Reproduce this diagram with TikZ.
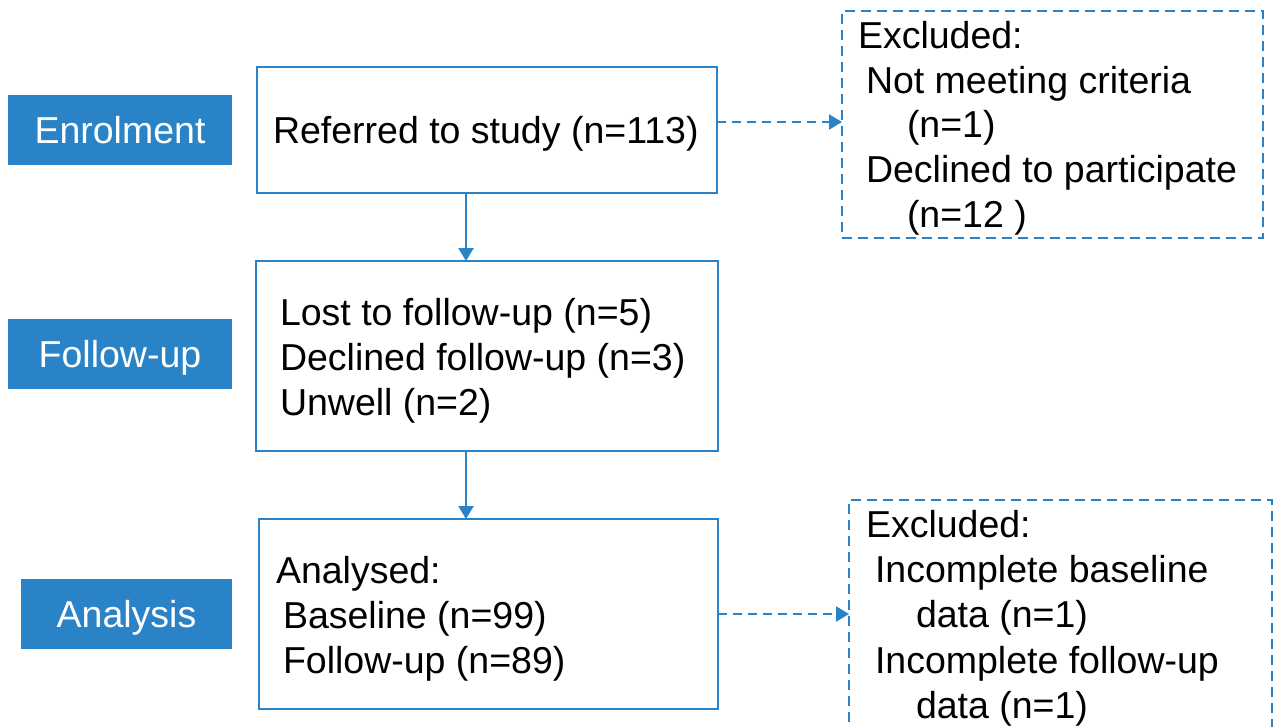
\documentclass[tikz,border=0pt]{standalone}
\usepackage{fontspec}
\setmainfont{Liberation Sans}
\usetikzlibrary{arrows.meta}
\definecolor{cblue}{RGB}{42,131,198}
\begin{document}
\begin{tikzpicture}[x=1pt,y=-1pt,
  every node/.style={font=\fontsize{37.5}{45}\selectfont, outer sep=0pt},
  lbl/.style={fill=cblue, text=white, inner sep=0pt, minimum height=70pt, text height=26.8pt, text depth=0pt},
  box/.style={draw=cblue, line width=2.8pt, inner sep=0pt},
  dbox/.style={box, dash pattern=on 10pt off 6pt},
  txt/.style={anchor=base west, inner sep=0pt, text=black},
  arr/.style={draw=cblue, line width=2.2pt, -{Triangle[width=15pt,length=13pt]}},
  darr/.style={arr, dash pattern=on 9pt off 6pt}]
\clip (0,0) rectangle (1274,726);
\fill[white] (0,0) rectangle (1274,726);
% stage labels
\node[lbl, minimum width=224pt] (enrol) at (120,130) {Enrolment};
\node[lbl, minimum width=224pt] (follow) at (120,354) {Follow-up};
\node[lbl, minimum width=211pt] (analysis) at (126.5,614) {Analysis};
% main boxes
\node[box, minimum width=460pt, minimum height=126pt] (box1) at (487,130) {};
\node[box, minimum width=462pt, minimum height=190pt] (box2) at (487,356) {};
\node[box, minimum width=459pt, minimum height=190pt] (box3) at (488.5,614) {};
% exclusion boxes
\node[dbox, minimum width=421pt, minimum height=227pt] (excl1) at (1052.5,124.5) {};
\node[dbox, minimum width=423pt, minimum height=270pt] (excl2) at (1060.5,635) {};
% texts
\node[txt] (t1) at (273,143) {Referred to study (n=113)};
\node[txt] (t2a) at (280,325) {Lost to follow-up (n=5)};
\node[txt] (t2b) at (280,370) {Declined follow-up (n=3)};
\node[txt] (t2c) at (280,415) {Unwell (n=2)};
\node[txt] (t3a) at (276,583) {Analysed:};
\node[txt] (t3b) at (283,628) {Baseline (n=99)};
\node[txt] (t3c) at (283,673) {Follow-up (n=89)};
\node[txt] (e1a) at (858,48) {Excluded:};
\node[txt] (e1b) at (866,93) {Not meeting criteria};
\node[txt] (e1c) at (907,137) {(n=1)};
\node[txt] (e1d) at (866,182) {Declined to participate};
\node[txt] (e1e) at (907,227) {(n=12 )};
\node[txt] (e2a) at (866,537) {Excluded:};
\node[txt] (e2b) at (875,582) {Incomplete baseline};
\node[txt] (e2c) at (916,627) {data (n=1)};
\node[txt] (e2d) at (875,673) {Incomplete follow-up};
\node[txt] (e2e) at (916,718) {data (n=1)};
% connectors
\draw[arr] ([xshift=-21pt]box1.south) -- ([xshift=-21pt]box2.north);
\draw[arr] ([xshift=-21pt]box2.south) -- ([xshift=-22.5pt]box3.north);
\draw[darr] ([yshift=8pt]box1.east) -- ([yshift=8pt]box1.east -| excl1.west);
\draw[darr] (box3.east) -- (box3.east -| excl2.west);
\end{tikzpicture}
\end{document}
